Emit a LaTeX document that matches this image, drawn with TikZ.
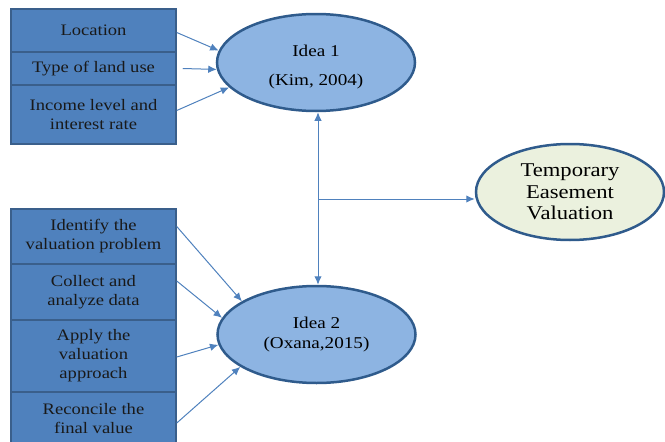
\documentclass[tikz,border=0pt]{standalone}
\usepackage{fontspec}
\setmainfont{Liberation Serif}[FakeStretch=1.16]
\usetikzlibrary{shapes.geometric,arrows.meta}
\definecolor{boxfill}{HTML}{4F81BD}
\definecolor{boxline}{HTML}{3A5F8B}
\definecolor{ideafill}{HTML}{8DB4E2}
\definecolor{idealine}{HTML}{2F5B8C}
\definecolor{tempfill}{HTML}{EBF1DE}
\definecolor{arrowc}{HTML}{4F81BD}
\tikzset{
  factor/.style={rectangle, draw=boxline, fill=boxfill, line width=1.5pt,
    minimum width=165pt, inner sep=0pt, align=center,
    font=\fontsize{16}{19}\selectfont, text=black!90},
  idea/.style={ellipse, draw=idealine, fill=ideafill, line width=2.5pt,
    minimum width=198pt, minimum height=97pt, inner sep=0pt, align=center,
    font=\fontsize{16.5}{20}\selectfont},
  target/.style={ellipse, draw=idealine, fill=tempfill, line width=2.5pt,
    minimum width=188pt, minimum height=96pt, inner sep=0pt, align=center,
    font=\fontsize{19.5}{21.5}\selectfont},
  link/.style={draw=arrowc, line width=1pt, -{Latex[length=8.5pt,width=7.5pt]}},
  dlink/.style={draw=arrowc, line width=1pt, {Latex[length=8.5pt,width=7.5pt]}-{Latex[length=8.5pt,width=7.5pt]}}
}
\begin{document}
\begin{tikzpicture}[x=1pt,y=-1pt]
\useasboundingbox (0,0) rectangle (665,442);
% top factor boxes
\node[factor, minimum height=43pt] (loc) at (93.5,30.5) {Location};
\node[factor, minimum height=33pt] (type) at (93.5,68.5) {Type of land use};
\node[factor, minimum height=59pt] (inc) at (93.5,114.5) {Income level and\\interest rate};
% bottom factor boxes
\node[factor, minimum height=55pt] (iden) at (93.5,236.5) {Identify the\\valuation problem};
\node[factor, minimum height=56pt] (coll) at (93.5,292) {Collect and\\analyze data};
\node[factor, minimum height=72pt] (appl) at (93.5,356) {Apply the\\valuation\\approach};
\node[factor, minimum height=54pt] (reco) at (93.5,419) {Reconcile the\\final value};
% ideas
\node[idea] (idea1) at (316,62.5) {};
\node[align=center, font=\fontsize{16.5}{20}\selectfont] (idea1t) at (316,67) {Idea 1\\[9pt](Kim, 2004)};
\node[idea] (idea2) at (316.5,334.5) {Idea 2\\(Oxana,2015)};
\node[target] (temp) at (570,192) {Temporary\\Easement\\Valuation};
% connectors to idea 1
\draw[link] ([yshift=-2pt]loc.east) -- (idea1.173);
\draw[link] ([xshift=6pt]type.east) -- (idea1.184);
\draw[link] ([yshift=4pt]inc.east) -- (idea1.196);
% connectors to idea 2
\draw[link] ([yshift=10pt]iden.east) -- (idea2.156);
\draw[link] ([yshift=11pt]coll.east) -- (idea2.170);
\draw[link] ([yshift=-1pt]appl.east) -- (idea2.186);
\draw[link] ([yshift=-4pt]reco.east) -- (idea2.203);
% vertical and branch
\coordinate (j) at (318,199);
\draw[dlink] (idea1.south -| j) -- (idea2.north -| j);
\draw[link] (j) -- (j -| temp.west);
\end{tikzpicture}
\end{document}
